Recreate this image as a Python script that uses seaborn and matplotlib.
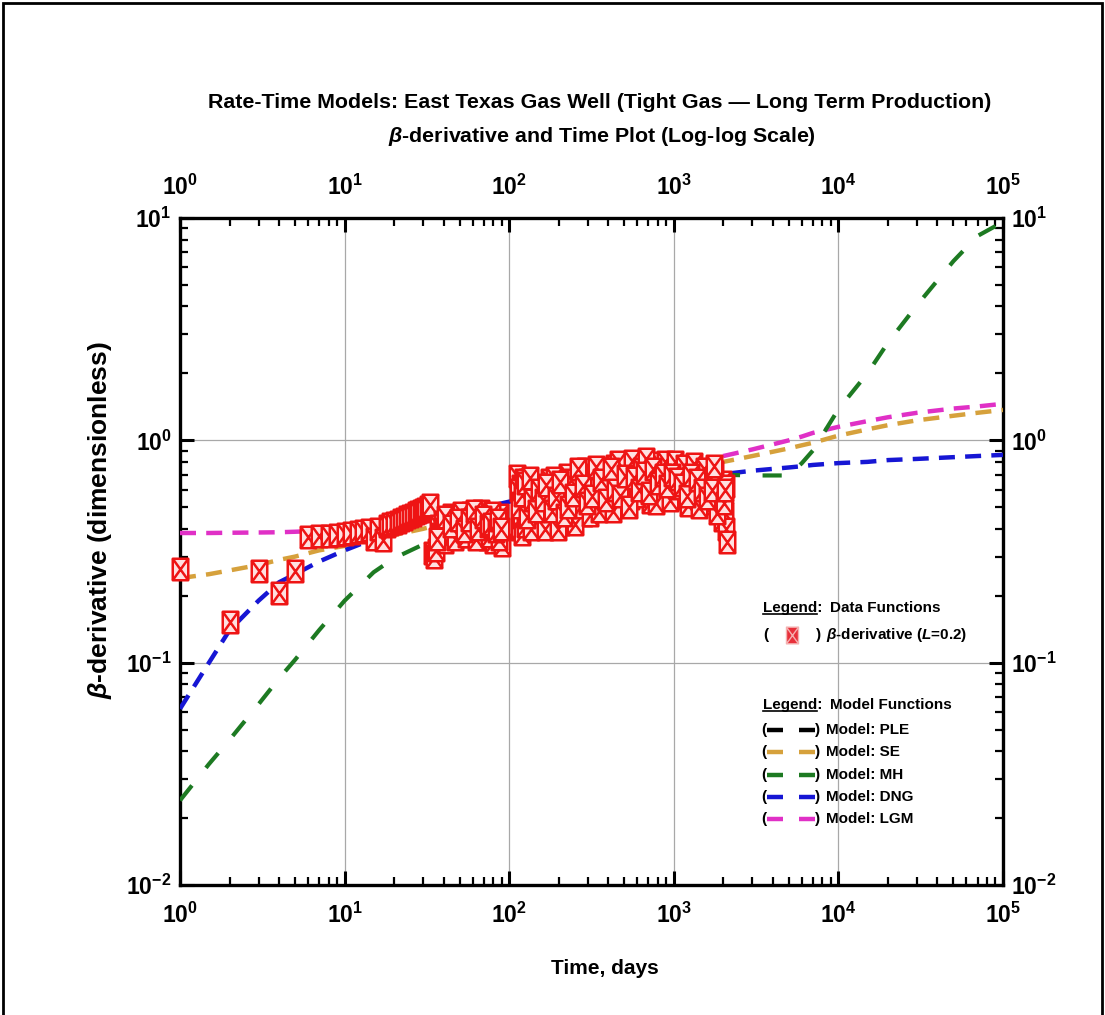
import numpy as np
import pandas as pd
import matplotlib
matplotlib.use('Agg')
import matplotlib.pyplot as plt
import seaborn as sns
from matplotlib import font_manager
from matplotlib.path import Path
from matplotlib.markers import MarkerStyle
from matplotlib.lines import Line2D
from matplotlib.patches import Rectangle
from matplotlib.ticker import FuncFormatter, NullFormatter

# ---- model curves ----
t_model = [1, 1.5, 2, 3, 4, 5, 7, 10, 15, 20, 30, 50, 100, 200, 500, 1000,
           2000, 3000, 5000, 6000, 7000, 10000, 15000, 20000, 30000, 50000, 70000, 100000]
se_model = [0.24, 0.25, 0.26, 0.275, 0.29, 0.30, 0.32, 0.335, 0.36, 0.375, 0.40, 0.44, 0.495,
            0.555, 0.645, 0.72, 0.80, 0.85, 0.92, 0.95, 0.975, 1.05, 1.12, 1.17, 1.23, 1.29,
            1.33, 1.37]
mh_model = [0.024, 0.035, 0.045, 0.065, 0.085, 0.103, 0.14, 0.19, 0.255, 0.295, 0.34, 0.42,
            0.53, 0.60, 0.66, 0.69, 0.70, 0.695, 0.695, 0.79, 0.90, 1.38, 2.0, 2.75, 4.05,
            6.4, 8.3, 9.6]
dng_model = [0.062, 0.10, 0.14, 0.19, 0.23, 0.25, 0.285, 0.32, 0.36, 0.39, 0.43, 0.47, 0.53,
             0.58, 0.64, 0.675, 0.705, 0.73, 0.755, 0.765, 0.775, 0.79, 0.80, 0.815, 0.825,
             0.84, 0.85, 0.86]
lgm_model = [0.383, 0.383, 0.384, 0.385, 0.386, 0.388, 0.392, 0.40, 0.41, 0.42, 0.43, 0.46,
             0.50, 0.57, 0.67, 0.76, 0.85, 0.91, 1.00, 1.04, 1.08, 1.15, 1.22, 1.27, 1.33,
             1.39, 1.42, 1.46]

# ---- beta-derivative data (L=0.2) ----
t_data = [1, 2, 3, 4, 5, 6, 7, 8, 9, 10, 11, 12, 13, 14, 15, 16, 17, 18, 19, 20, 21, 22, 23,
          24, 25, 26, 27, 28, 29, 30, 31, 32, 33,
          34, 35, 36, 37, 38, 39, 40, 42, 43, 45, 46, 48, 50, 52, 54, 56, 58, 60, 62, 64, 66,
          68, 70, 73, 76, 78, 80, 82, 85, 88, 90,
          112, 114, 116, 118, 120, 123, 126, 128, 131, 134, 137, 140,
          143, 146, 150, 154, 158, 162, 166, 170,
          175, 180, 185, 190, 195, 200, 206, 212, 218,
          225, 232, 240, 248, 256, 265, 274, 283, 292, 302, 312, 322, 333, 344,
          355, 368, 380, 393, 406, 420, 434, 449, 464, 480, 496, 513, 530, 548, 565,
          585, 605, 625, 646, 668, 690, 713, 737, 762, 788, 815, 842, 870, 900, 930, 960,
          995, 1030, 1065, 1100, 1140, 1180, 1220, 1260, 1300, 1350, 1400, 1450, 1500, 1560,
          1620, 1680, 1740, 1800,
          1850, 1900, 1950, 2000, 2030, 2060, 2090, 2100]
b_data = [0.265, 0.152, 0.258, 0.205, 0.258, 0.368, 0.37, 0.372, 0.375, 0.38, 0.383, 0.386,
          0.39, 0.395, 0.36, 0.40, 0.355, 0.41, 0.42, 0.425, 0.43, 0.44, 0.445, 0.45, 0.455,
          0.46, 0.47, 0.475, 0.48, 0.485, 0.49, 0.50, 0.51,
          0.31, 0.30, 0.32, 0.41, 0.38, 0.43, 0.40, 0.37, 0.42, 0.39, 0.44, 0.40, 0.37, 0.43,
          0.45, 0.41, 0.47, 0.43, 0.39, 0.46, 0.44, 0.38, 0.42, 0.36, 0.45, 0.40, 0.35, 0.43,
          0.38, 0.46, 0.34,
          0.69, 0.40, 0.62, 0.45, 0.38, 0.55, 0.48, 0.66, 0.42, 0.58, 0.50, 0.44,
          0.52, 0.58, 0.45, 0.55, 0.43, 0.50, 0.57, 0.47,
          0.66, 0.52, 0.44, 0.60, 0.48, 0.56, 0.42, 0.63, 0.50,
          0.70, 0.55, 0.47, 0.62, 0.52, 0.68, 0.58, 0.46, 0.65, 0.54, 0.72, 0.60, 0.50, 0.66,
          0.57, 0.74, 0.62, 0.50, 0.69, 0.56, 0.77, 0.64, 0.52, 0.72, 0.60, 0.78, 0.67, 0.55, 0.74,
          0.63, 0.79, 0.70, 0.57, 0.76, 0.65, 0.53, 0.78, 0.69, 0.60, 0.79, 0.72, 0.56, 0.75,
          0.66, 0.78,
          0.62, 0.74, 0.55, 0.68, 0.58, 0.73, 0.51, 0.65, 0.72, 0.56, 0.62, 0.70, 0.53, 0.66,
          0.58, 0.69, 0.52, 0.63,
          0.60, 0.50, 0.44, 0.65, 0.55, 0.47, 0.40, 0.35]
# extra points filling the dense clusters
t_fill = [41, 44, 47, 51, 55, 59, 63, 67, 72, 75, 79, 84, 87,
          113, 117, 121, 125, 130, 135, 148, 156, 164, 178, 188, 198, 210, 222, 236, 252, 270,
          288, 308, 328, 350, 375, 400, 428, 456, 488, 520, 556, 595, 635, 680, 725, 775, 828,
          885, 945, 1010, 1080, 1160, 1240, 1330, 1420, 1530, 1650, 1770, 1830, 1980, 2070,
          36.5, 40.5, 44.5, 49, 53, 57, 61, 65, 69, 74, 77, 83, 86, 89,
          115, 119, 124, 129, 133, 138, 145, 152, 160, 168, 183, 193, 203, 215, 228, 244, 260,
          279, 297, 318, 339, 362, 386, 413, 441, 472, 504, 538, 575, 615, 657, 702, 750, 800,
          856, 915, 975, 1045, 1120, 1200, 1280, 1375, 1475, 1590, 1710, 1760, 2010, 2050]
b_fill = [0.35, 0.46, 0.36, 0.47, 0.37, 0.42, 0.36, 0.48, 0.46, 0.37, 0.47, 0.42, 0.36,
          0.60, 0.52, 0.66, 0.41, 0.60, 0.40, 0.62, 0.49, 0.40, 0.58, 0.68, 0.40, 0.55, 0.60,
          0.66, 0.42, 0.50, 0.74, 0.46, 0.70, 0.48, 0.67, 0.58, 0.48, 0.80, 0.66, 0.58, 0.81,
          0.56, 0.74, 0.82, 0.62, 0.52, 0.66, 0.80, 0.54, 0.80, 0.61, 0.77, 0.60, 0.78, 0.50,
          0.74, 0.62, 0.72, 0.47, 0.58, 0.62,
          0.36, 0.45, 0.41, 0.44, 0.39, 0.44, 0.48, 0.40, 0.45, 0.41, 0.42, 0.39, 0.44, 0.40,
          0.50, 0.57, 0.64, 0.45, 0.68, 0.54, 0.48, 0.60, 0.54, 0.63, 0.48, 0.55, 0.65, 0.46,
          0.50, 0.57, 0.74, 0.62, 0.52, 0.56, 0.76, 0.66, 0.54, 0.74, 0.60, 0.56, 0.69, 0.50,
          0.68, 0.60, 0.71, 0.58, 0.74, 0.64, 0.70, 0.62, 0.70, 0.67, 0.63, 0.56, 0.70, 0.66,
          0.60, 0.55, 0.60, 0.77, 0.52, 0.60]

models = ['PLE', 'SE', 'MH', 'DNG', 'LGM']
colors = {'PLE': 'black', 'SE': '#d6a13c', 'MH': '#1d7a22', 'DNG': '#1616d4', 'LGM': '#e030c6'}

# ---- fonts ----
names = {f.name for f in font_manager.fontManager.ttflist}
narrow = 'Liberation Sans Narrow' in names
FAM = 'Liberation Sans Narrow' if narrow else 'Liberation Sans'
TITLE, TICK, XL, YL, LEG = (17, 18, 17, 19, 13) if narrow else (15.4, 16.5, 15, 19, 11)

plt.rcParams['font.family'] = [FAM, 'DejaVu Sans']
plt.rcParams['font.weight'] = 'bold'
plt.rcParams['mathtext.fontset'] = 'custom'
plt.rcParams['mathtext.rm'] = FAM + ':bold'
plt.rcParams['mathtext.bf'] = FAM + ':bold'
plt.rcParams['mathtext.it'] = FAM + ':bold:italic'

W, H = 1105, 1015
fig = plt.figure(figsize=(W / 100, H / 100), dpi=100)
ax = fig.add_axes([180 / W, 1 - 885 / H, 823 / W, 667 / H])
ax.set_xscale('log')
ax.set_yscale('log')

dash = (0, (3.6, 2.3))
sns.lineplot(x=t_model, y=se_model, ax=ax, color=colors['SE'], lw=3.2, linestyle=dash,
             errorbar=None, zorder=3)
sns.lineplot(x=t_model, y=lgm_model, ax=ax, color=colors['LGM'], lw=3.2, linestyle=dash,
             errorbar=None, zorder=3)
sns.lineplot(x=t_model, y=dng_model, ax=ax, color=colors['DNG'], lw=3.2, linestyle=dash,
             errorbar=None, zorder=3)
sns.lineplot(x=t_model, y=mh_model, ax=ax, color=colors['MH'], lw=3.0, linestyle=(0, (4.6, 5.4)),
             errorbar=None, zorder=4)

# square-with-cross marker
verts = [(-0.72, -1), (0.72, -1), (0.72, 1), (-0.72, 1), (-0.72, -1),
         (-0.72, -1), (0.72, 1), (-0.72, 1), (0.72, -1)]
codes = [Path.MOVETO, Path.LINETO, Path.LINETO, Path.LINETO, Path.CLOSEPOLY,
         Path.MOVETO, Path.LINETO, Path.MOVETO, Path.LINETO]
boxx = MarkerStyle(Path(verts, codes))
sns.scatterplot(x=t_data + t_fill, y=b_data + b_fill, ax=ax, marker=boxx, s=240,
                color='#ffe0e0', edgecolor='#ee1414', linewidth=1.8, zorder=5,
                clip_on=False, legend=False)

ax.set_xlim(1, 1e5)
ax.set_ylim(1e-2, 10)
ax.grid(True, which='major', color='#a8a8a8', lw=0.9)
ax.set_axisbelow(True)
for s in ax.spines.values():
    s.set_linewidth(2.4)

fmt = FuncFormatter(lambda v, p: r'$\mathbf{10^{%d}}$' % int(round(np.log10(v))))
ax.xaxis.set_major_formatter(fmt)
ax.yaxis.set_major_formatter(fmt)
ax.xaxis.set_minor_formatter(NullFormatter())
ax.yaxis.set_minor_formatter(NullFormatter())
ax.tick_params(which='both', direction='in', top=True, right=True,
               labeltop=True, labelright=True, colors='black')
ax.tick_params(which='major', length=10, width=2.2)
ax.tick_params(which='minor', length=6, width=1.6)
ax.tick_params(axis='x', which='major', pad=13, labelsize=TICK)
ax.tick_params(axis='y', which='major', pad=6, labelsize=TICK)
ax.set_xlabel('')
ax.set_ylabel('')


def fx(x):
    return x / W


def fy(y):
    return 1 - y / H


fig.text(fx(600), fy(103), 'Rate-Time Models: East Texas Gas Well (Tight Gas \u2014 Long Term Production)',
         ha='center', va='center', fontsize=TITLE, weight='bold')
fig.text(fx(602), fy(137), r'$\beta$-derivative and Time Plot (Log-log Scale)',
         ha='center', va='center', fontsize=TITLE, weight='bold')
fig.text(fx(605), fy(968), 'Time, days', ha='center', va='center', fontsize=XL, weight='bold')
fig.text(fx(100), fy(520), r'$\beta$-derivative (dimensionless)', rotation=90, ha='center',
         va='center', fontsize=YL, weight='bold', family=['Liberation Sans', 'DejaVu Sans'])

# ---- hand-made legends ----
under = []
under.append(fig.text(fx(763), fy(608), 'Legend', ha='left', va='center', fontsize=LEG))
fig.text(fx(763), fy(608), 'Legend:', ha='left', va='center', fontsize=LEG)
fig.text(fx(830), fy(608), 'Data Functions', ha='left', va='center', fontsize=LEG)
fig.text(fx(763), fy(635), '(', ha='left', va='center', fontsize=LEG)
fig.text(fx(816), fy(635), ')', ha='left', va='center', fontsize=LEG)
fig.add_artist(Line2D([fx(792)], [fy(635)], transform=fig.transFigure, marker=boxx,
                      markersize=12, mfc='#e8303a', mec='#f4b0b0', mew=1.0, ls='none'))
fig.text(fx(826), fy(635), r'$\beta$-derivative ($L$=0.2)', ha='left', va='center', fontsize=LEG)

under.append(fig.text(fx(763), fy(705), 'Legend', ha='left', va='center', fontsize=LEG))
fig.text(fx(763), fy(705), 'Legend:', ha='left', va='center', fontsize=LEG)
fig.text(fx(830), fy(705), 'Model Functions', ha='left', va='center', fontsize=LEG)
rows = [730, 752, 775, 797, 819]
for m, yy in zip(models, rows):
    fig.text(fx(761), fy(yy), '(', ha='left', va='center', fontsize=LEG)
    fig.add_artist(Line2D([fx(767), fx(815)], [fy(yy), fy(yy)], transform=fig.transFigure,
                          color=colors[m], lw=3.2, linestyle=(0, (3.6, 3.6))))
    fig.text(fx(815), fy(yy), ')', ha='left', va='center', fontsize=LEG)
    fig.text(fx(826), fy(yy), 'Model: ' + m, ha='left', va='center', fontsize=LEG)

fig.canvas.draw()
for t in under:
    t.set_alpha(0)
    bb = t.get_window_extent()
    fig.add_artist(Line2D([bb.x0, bb.x1], [bb.y0 + 1, bb.y0 + 1], transform=None,
                          color='black', lw=1.2))

# outer frame
fig.add_artist(Rectangle((fx(3), -0.02), fx(1099), 1.02 - 3 / H, transform=fig.transFigure,
                         fill=False, ec='black', lw=2))

fig.savefig('out.png', dpi=100)
